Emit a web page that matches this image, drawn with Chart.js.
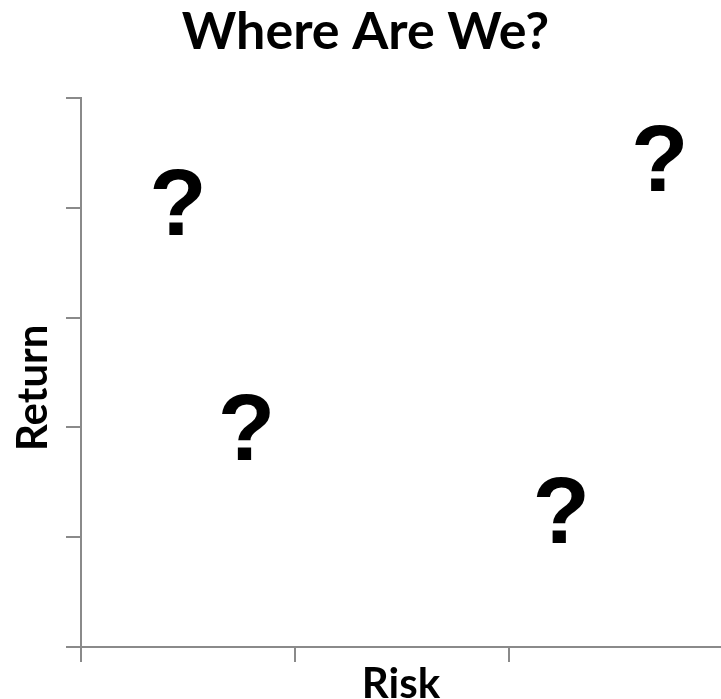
<!DOCTYPE html>
<html>
<head>
<meta charset="utf-8">
<script src="https://cdn.jsdelivr.net/npm/chart.js@4"></script>
<style>
  html, body { margin: 0; padding: 0; background: #fff; }
  #wrap { width: 721px; height: 699px; }
</style>
</head>
<body>
<div id="wrap"><canvas id="c" width="721" height="699"></canvas></div>
<script>
// Risk / return positions of the four unknowns
const riskValues   = [0.45, 0.77, 2.70, 2.24];
const returnValues = [4.05, 2.00, 4.45, 1.25];
const pointMarks   = ['?', '?', '?', '?'];

// Tick positions (no labels drawn)
const riskTicks   = [0, 1, 2];
const returnTicks = [0, 1, 2, 3, 4, 5];

const axisGrey = '#8a8a8a';
const titleFont = 'Lato';

const points = riskValues.map((x, i) => ({ x, y: returnValues[i] }));

// Draws each point as a large bold glyph centred on its position
const glyphMarks = {
  id: 'glyphMarks',
  afterDatasetsDraw(chart) {
    const { ctx } = chart;
    const meta = chart.getDatasetMeta(0);
    ctx.save();
    ctx.fillStyle = '#000';
    ctx.font = 'bold 94px "Liberation Sans", Arial, sans-serif';
    ctx.textAlign = 'left';
    ctx.textBaseline = 'alphabetic';
    meta.data.forEach((el, i) => {
      const t = pointMarks[i];
      const m = ctx.measureText(t);
      const w = m.actualBoundingBoxLeft + m.actualBoundingBoxRight;
      const h = m.actualBoundingBoxAscent + m.actualBoundingBoxDescent;
      const x = el.x - w / 2 + m.actualBoundingBoxLeft;
      const y = el.y + h / 2 - m.actualBoundingBoxDescent;
      ctx.fillText(t, x, y);
    });
    ctx.restore();
  }
};

new Chart(document.getElementById('c'), {
  type: 'scatter',
  data: {
    datasets: [{
      label: 'Where Are We?',
      data: points,
      pointRadius: 0,
      pointHoverRadius: 0,
      showLine: false
    }]
  },
  options: {
    responsive: false,
    animation: false,
    events: [],
    layout: { padding: { left: 10, right: 0, top: 0, bottom: 0 } },
    plugins: {
      legend: { display: false },
      tooltip: { enabled: false },
      title: {
        display: true,
        text: 'Where Are We?',
        color: '#000',
        font: { family: titleFont, weight: 'bold', size: 52, lineHeight: 1 },
        padding: { top: 6, bottom: 40 }
      }
    },
    scales: {
      x: {
        type: 'linear',
        min: 0,
        max: 2.99,
        afterBuildTicks(s) { s.ticks = riskTicks.map(v => ({ value: v })); },
        afterFit(s) { s.height = 52; },
        ticks: { display: false },
        grid: { drawOnChartArea: false, drawTicks: true, tickLength: 15, color: axisGrey, lineWidth: 2 },
        border: { display: true, color: axisGrey, width: 2 },
        title: {
          display: true,
          text: 'Risk',
          color: '#000',
          font: { family: titleFont, weight: 'bold', size: 42, lineHeight: 0.7 },
          padding: { top: 0, bottom: 0 }
        }
      },
      y: {
        type: 'linear',
        min: 0,
        max: 5,
        afterBuildTicks(s) { s.ticks = returnTicks.map(v => ({ value: v })); },
        afterFit(s) { s.width = 71; },
        ticks: { display: false },
        grid: { drawOnChartArea: false, drawTicks: true, tickLength: 15, color: axisGrey, lineWidth: 2 },
        border: { display: true, color: axisGrey, width: 2 },
        title: {
          display: true,
          // trailing spaces nudge the word slightly below the axis centre
          text: 'Return   ',
          color: '#000',
          font: { family: titleFont, weight: 'bold', size: 42, lineHeight: 0.8 },
          padding: { top: 7, bottom: 0 }
        }
      }
    }
  },
  plugins: [glyphMarks]
});
</script>
</body>
</html>
